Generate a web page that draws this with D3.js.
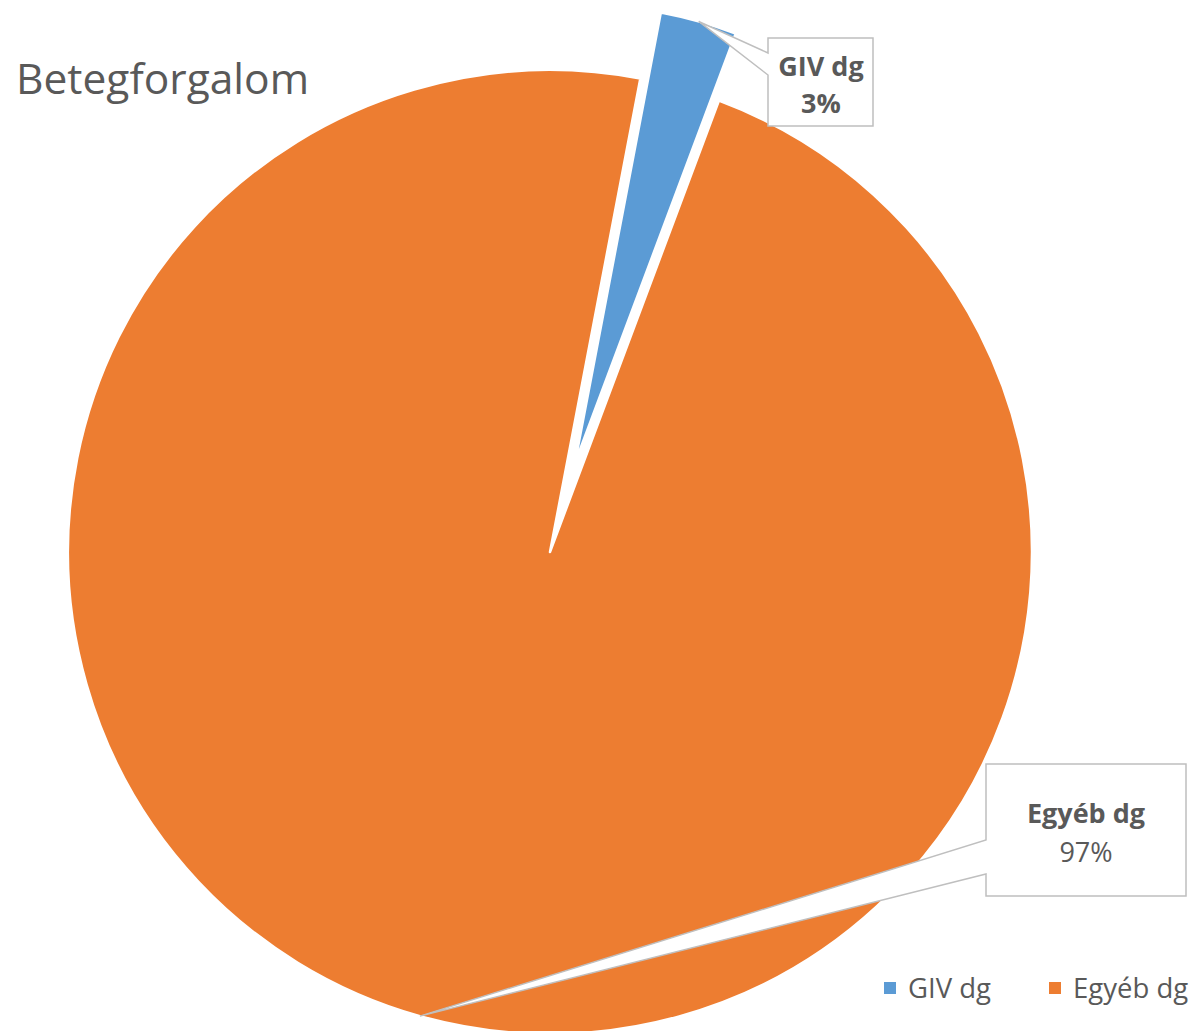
<!DOCTYPE html>
<html><head><meta charset="utf-8">
<script src="https://cdn.jsdelivr.net/npm/d3@7"></script>
<style>body{margin:0;background:#fff}svg{display:block}text{font-family:"Open Sans",sans-serif}</style>
</head><body>
<script>
const categories = ["GIV dg", "Egyéb dg"];
const values = [2.7, 97.3];
const labels = ["3%", "97%"];
const colors = ["#5B9BD5", "#ED7D31"];
const title = "Betegforgalom";

const W = 1194, H = 1031;
const svg = d3.select("body").append("svg").attr("width", W).attr("height", H);
const cx = 550, cy = 552, R = 482;
const deg = Math.PI / 180;

const pie = d3.pie().sort(null).startAngle(10.8 * deg).endAngle(370.8 * deg);
const arcs = pie(values);
const explode = [92, 0];
const radii = [459, R];

const g = svg.append("g").attr("transform", `translate(${cx},${cy})`);
arcs.forEach((a, i) => {
  const mid = (a.startAngle + a.endAngle) / 2;
  const ox = Math.sin(mid) * explode[i], oy = -Math.cos(mid) * explode[i];
  g.append("path")
    .attr("transform", `translate(${ox},${oy})`)
    .attr("d", d3.arc().innerRadius(0).outerRadius(radii[i])(a))
    .attr("fill", colors[i]).attr("stroke", "#fff").attr("stroke-width", 2.5)
    .attr("stroke-linejoin", "round");
});

// callouts
const boxes = [
  {x0: 768, y0: 38, x1: 873, y1: 126, a0: 53, a1: 75, tx: 821, ty: [76, 113], bold: [true, true], fs: 27},
  {x0: 986, y0: 764, x1: 1186, y1: 896, a0: 840, a1: 874, tx: 1086, ty: [823, 862], bold: [true, false], fs: 27}
];
arcs.forEach((a, i) => {
  const b = boxes[i];
  const mid = (a.startAngle + a.endAngle) / 2;
  const ox = Math.sin(mid) * explode[i], oy = -Math.cos(mid) * explode[i];
  const tipX = cx + ox + Math.sin(mid) * radii[i];
  const tipY = cy + oy - Math.cos(mid) * radii[i];
  const p = d3.path();
  p.moveTo(b.x0, b.y0); p.lineTo(b.x1, b.y0); p.lineTo(b.x1, b.y1); p.lineTo(b.x0, b.y1);
  p.lineTo(b.x0, b.a1); p.lineTo(tipX, tipY); p.lineTo(b.x0, b.a0); p.closePath();
  svg.append("path").attr("d", p.toString()).attr("fill", "#fff")
    .attr("stroke", "#BFBFBF").attr("stroke-width", 1.5).attr("stroke-linejoin", "miter");
  [categories[i], labels[i]].forEach((t, k) => {
    svg.append("text").attr("x", b.tx).attr("y", b.ty[k]).attr("text-anchor", "middle")
      .attr("font-size", b.fs).attr("font-weight", b.bold[k] ? "bold" : "normal")
      .attr("fill", "#595959").text(t);
  });
});

// title
svg.append("text").attr("x", 16).attr("y", 94).attr("font-size", 42.5).attr("fill", "#595959").text(title);

// legend
const legX = [884, 1049];
categories.forEach((c, i) => {
  svg.append("rect").attr("x", legX[i]).attr("y", 982).attr("width", 12).attr("height", 12).attr("fill", colors[i]);
  svg.append("text").attr("x", legX[i] + 24).attr("y", 998).attr("font-size", 27.5).attr("fill", "#595959").text(c);
});
</script>
</body></html>
